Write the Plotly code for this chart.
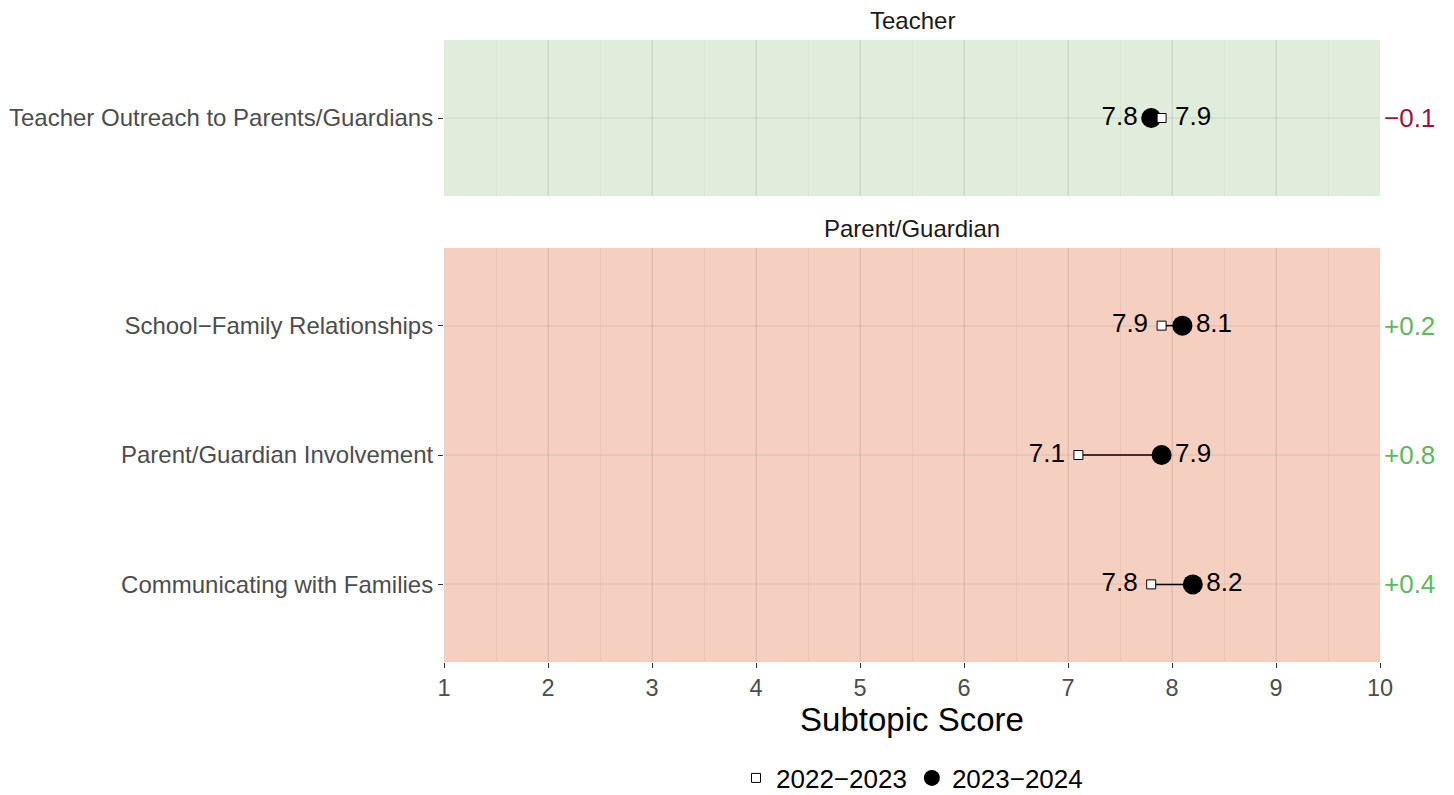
import plotly.graph_objects as go

MINUS = "\u2212"

# ---- data ----
teacher_cats = ["Teacher Outreach to Parents/Guardians"]
teacher_2022 = [7.9]
teacher_2023 = [7.8]

parent_cats = ["Communicating with Families", "Parent/Guardian Involvement", f"School{MINUS}Family Relationships"]
parent_2022 = [7.8, 7.1, 7.9]
parent_2023 = [8.2, 7.9, 8.1]

series_names = [f"2022{MINUS}2023", f"2023{MINUS}2024"]
x_ticks = list(range(1, 11))
panel_titles = ["Teacher", "Parent/Guardian"]

# ---- layout constants (page body has an 8px margin) ----
OFF = 8
W, H = 1454 - OFF, 795 - OFF
PLOT_L, PLOT_R, PLOT_T, PLOT_B = 444, 1380, 40, 662  # screen pixels
ML = PLOT_L - OFF
MT = PLOT_T - OFF
MR = W - (PLOT_R - OFF)
MB = H - (PLOT_B - OFF)
plot_h = PLOT_B - PLOT_T

def frac(py):
    # screen y pixel -> paper fraction
    return (PLOT_B - py) / plot_h

top_dom = [frac(196), 1.0]
bot_dom = [0.0, frac(248)]

GREEN_BG = "#E0EDDC"
SALMON_BG = "#F5CFBF"
RED = "#A50F3A"
GREENTXT = "#5CB85C"
FONT = "Liberation Sans, Arial, sans-serif"
NUDGE = 0.13
LABEL_SIZE = 26

fig = go.Figure()

def add_panel(cats, v22, v23, xa, ya, show_legend):
    lx, ly = [], []
    for c, a, b in zip(cats, v22, v23):
        lx += [a, b, None]
        ly += [c, c, None]
    fig.add_trace(go.Scatter(x=lx, y=ly, mode="lines", line=dict(color="black", width=1.5),
                             xaxis=xa, yaxis=ya, showlegend=False, hoverinfo="skip"))
    fig.add_trace(go.Scatter(x=v23, y=cats, mode="markers", name=series_names[1],
                             marker=dict(symbol="circle", size=20, color="black"),
                             xaxis=xa, yaxis=ya, showlegend=show_legend, legendgroup="b",
                             legendrank=2))
    fig.add_trace(go.Scatter(x=v22, y=cats, mode="markers", name=series_names[0],
                             marker=dict(symbol="square", size=9, color="white",
                                         line=dict(color="black", width=1)),
                             xaxis=xa, yaxis=ya, showlegend=show_legend, legendgroup="a",
                             legendrank=1))
    lo_x, lo_t, hi_x, hi_t = [], [], [], []
    for a, b in zip(v22, v23):
        lo, hi = min(a, b), max(a, b)
        lo_x.append(lo - NUDGE); lo_t.append(f"{lo:.1f}")
        hi_x.append(hi + NUDGE); hi_t.append(f"{hi:.1f}")
    fig.add_trace(go.Scatter(x=lo_x, y=cats, mode="text", text=lo_t, textposition="middle left",
                             textfont=dict(size=LABEL_SIZE, color="black", family=FONT),
                             xaxis=xa, yaxis=ya, showlegend=False, hoverinfo="skip"))
    fig.add_trace(go.Scatter(x=hi_x, y=cats, mode="text", text=hi_t, textposition="middle right",
                             textfont=dict(size=LABEL_SIZE, color="black", family=FONT),
                             xaxis=xa, yaxis=ya, showlegend=False, hoverinfo="skip"))
    for c, a, b in zip(cats, v22, v23):
        d = round(b - a, 1)
        txt = (f"+{d:.1f}" if d >= 0 else f"{MINUS}{abs(d):.1f}")
        fig.add_annotation(x=1.002, xref=f"{xa} domain", y=c, yref=ya,
                           text=txt, showarrow=False, xanchor="left",
                           font=dict(size=LABEL_SIZE, color=GREENTXT if d >= 0 else RED, family=FONT))

add_panel(parent_cats, parent_2022, parent_2023, "x", "y", True)
add_panel(teacher_cats, teacher_2022, teacher_2023, "x2", "y2", False)

fig.add_shape(type="rect", xref="x domain", yref="y domain", x0=0, x1=1, y0=0, y1=1,
              fillcolor=SALMON_BG, line=dict(width=0), layer="below")
fig.add_shape(type="rect", xref="x2 domain", yref="y2 domain", x0=0, x1=1, y0=0, y1=1,
              fillcolor=GREEN_BG, line=dict(width=0), layer="below")

fig.add_annotation(x=0.5, xref="paper", y=frac(20), yref="paper", text=panel_titles[0],
                   showarrow=False, font=dict(size=24, color="#1A1A1A", family=FONT), yanchor="middle")
fig.add_annotation(x=0.5, xref="paper", y=frac(228), yref="paper", text=panel_titles[1],
                   showarrow=False, font=dict(size=24, color="#1A1A1A", family=FONT), yanchor="middle")

grid_major = "rgba(0,0,0,0.045)"
grid_minor = "rgba(0,0,0,0.04)"

xcommon = dict(range=[1, 10], tickvals=x_ticks, showgrid=True, gridcolor=grid_major, gridwidth=2,
               minor=dict(dtick=0.5, showgrid=True, gridcolor=grid_minor, gridwidth=1),
               zeroline=False, showline=False, automargin=False)
ycommon = dict(type="category", showgrid=True, gridcolor=grid_major, gridwidth=2, zeroline=False,
               ticks="outside", ticklen=5, tickwidth=1.2, tickcolor="#333333", automargin=False,
               tickfont=dict(size=24, color="#4D4D4D"))
fig.update_layout(
    width=W, height=H,
    margin=dict(l=ML, r=MR, t=MT, b=MB, autoexpand=False),
    paper_bgcolor="white", plot_bgcolor="rgba(0,0,0,0)",
    font=dict(family=FONT),
    xaxis=dict(**xcommon, ticks="outside", ticklen=5, tickwidth=1.2, tickcolor="#333333",
               tickfont=dict(size=23.5, color="#4D4D4D"),
               title=dict(text="Subtopic Score", font=dict(size=33, color="black"), standoff=6),
               anchor="y"),
    xaxis2=dict(**xcommon, showticklabels=False, anchor="y2", matches="x"),
    yaxis=dict(**ycommon, domain=bot_dom, categoryarray=parent_cats, range=[-0.6, 2.6], anchor="x"),
    yaxis2=dict(**ycommon, domain=top_dom, categoryarray=teacher_cats, range=[-0.6, 0.6], anchor="x2"),
    legend=dict(orientation="h", x=0.5, xanchor="center", y=frac(778), yanchor="middle",
                font=dict(size=26, color="black"), itemsizing="trace"),
    showlegend=True,
)

fig.write_html("out.html")
